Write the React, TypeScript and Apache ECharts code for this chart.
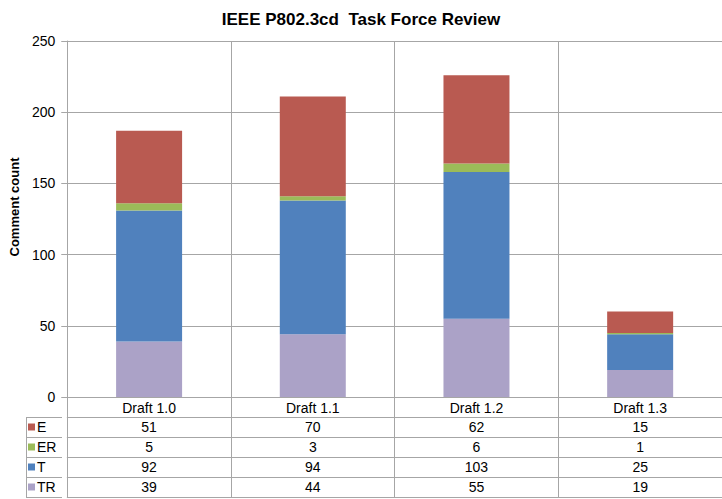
import React, { useEffect, useRef } from "react";
import * as echarts from "echarts";

const categories = ["Draft 1.0", "Draft 1.1", "Draft 1.2", "Draft 1.3"];
const seriesNames = ["E", "ER", "T", "TR"];
const E = [51, 70, 62, 15];
const ER = [5, 3, 6, 1];
const T = [92, 94, 103, 25];
const TR = [39, 44, 55, 19];
const colors: Record<string, string> = {
  E: "#B95A51",
  ER: "#9BBB59",
  T: "#5081BD",
  TR: "#ABA2C7",
};
const yTicks = { min: 0, max: 250, interval: 50 };

const FONT = "Liberation Sans, Arial, sans-serif";
const GRID_COLOR = "#A6A6A6";

export default function App() {
  const ref = useRef<HTMLDivElement>(null);
  useEffect(() => {
    if (!ref.current) return;
    document.body.style.margin = "0";
    const chart = echarts.init(ref.current, undefined, { renderer: "svg" });
    const values: Record<string, number[]> = { E, ER, T, TR };
    const rowOffset = 20;
    const gridLeft = 62;
    const gridBottomY = 397;
    const tableLeft = 26;

    const extraAxes = seriesNames.map((name, i) => ({
      type: "category" as const,
      gridIndex: 0,
      position: "bottom" as const,
      offset: rowOffset * (i + 1),
      data: values[name].map((v) => String(v)),
      axisLine: { show: true, lineStyle: { color: GRID_COLOR, width: 1 } },
      axisTick: { show: false },
      axisLabel: { margin: 3, fontSize: 14, color: "#000", fontFamily: FONT, interval: 0 },
      splitLine: { show: false },
    }));
    const bottomAxis = {
      type: "category" as const,
      gridIndex: 0,
      position: "bottom" as const,
      offset: rowOffset * 5,
      data: categories,
      axisLine: { show: true, lineStyle: { color: GRID_COLOR, width: 1 } },
      axisTick: { show: false },
      axisLabel: { show: false },
      splitLine: { show: false },
    };

    const leftLines: any[] = [];
    for (let i = 1; i <= 5; i++) {
      const y = gridBottomY + rowOffset * i + 0.5;
      leftLines.push({
        type: "line",
        shape: { x1: tableLeft, y1: y, x2: gridLeft, y2: y },
        style: { stroke: GRID_COLOR, lineWidth: 1 },
      });
    }
    leftLines.push({
      type: "line",
      shape: {
        x1: tableLeft + 0.5,
        y1: gridBottomY + rowOffset + 0.5,
        x2: tableLeft + 0.5,
        y2: gridBottomY + rowOffset * 5 + 0.5,
      },
      style: { stroke: GRID_COLOR, lineWidth: 1 },
    });

    const stackOrder = ["TR", "T", "ER", "E"];
    chart.setOption({
      animation: false,
      title: {
        text: "IEEE P802.3cd  Task Force Review",
        left: "center",
        top: 6,
        textStyle: { fontSize: 17, fontWeight: "bold", color: "#000", fontFamily: FONT },
      },
      legend: {
        orient: "vertical",
        left: 28,
        top: 417,
        padding: 0,
        itemGap: 0,
        itemWidth: 7,
        itemHeight: 7,
        icon: "rect",
        data: seriesNames,
        selectedMode: false,
        textStyle: { fontSize: 14, color: "#000", fontFamily: FONT, lineHeight: 20, padding: [0, 0, 0, -3] },
      },
      grid: { left: gridLeft, top: 41, right: -5, bottom: 499 - gridBottomY },
      xAxis: [
        {
          type: "category",
          data: categories,
          position: "bottom",
          axisLine: { show: true, lineStyle: { color: GRID_COLOR, width: 1 } },
          axisTick: {
            show: true,
            length: rowOffset * 5,
            interval: 0,
            lineStyle: { color: GRID_COLOR, width: 1 },
          },
          axisLabel: { margin: 4, fontSize: 14, color: "#000", fontFamily: FONT, interval: 0 },
          splitLine: { show: true, interval: 0, lineStyle: { color: GRID_COLOR, width: 1 } },
        },
        ...extraAxes,
        bottomAxis,
      ],
      yAxis: {
        type: "value",
        min: yTicks.min,
        max: yTicks.max,
        interval: yTicks.interval,
        name: "Comment count",
        nameLocation: "middle",
        nameGap: 45,
        nameTextStyle: {
          fontSize: 13,
          fontWeight: "bold",
          color: "#000",
          fontFamily: FONT,
          padding: [0, 0, 0, 24],
        },
        axisLine: { show: true, lineStyle: { color: GRID_COLOR, width: 1 } },
        axisTick: { show: true, length: 6, lineStyle: { color: GRID_COLOR } },
        axisLabel: { margin: 12, fontSize: 14, color: "#000", fontFamily: FONT },
        splitLine: { show: true, lineStyle: { color: GRID_COLOR, width: 1 } },
      },
      series: stackOrder.map((name) => ({
        name,
        type: "bar",
        stack: "total",
        xAxisIndex: 0,
        barWidth: 66,
        data: values[name],
        itemStyle: { color: colors[name] },
      })),
      graphic: leftLines,
    });
    return () => chart.dispose();
  }, []);
  return (
    <div
      ref={ref}
      style={{ position: "fixed", left: 0, top: 0, width: 722, height: 499, background: "#fff" }}
    />
  );
}
